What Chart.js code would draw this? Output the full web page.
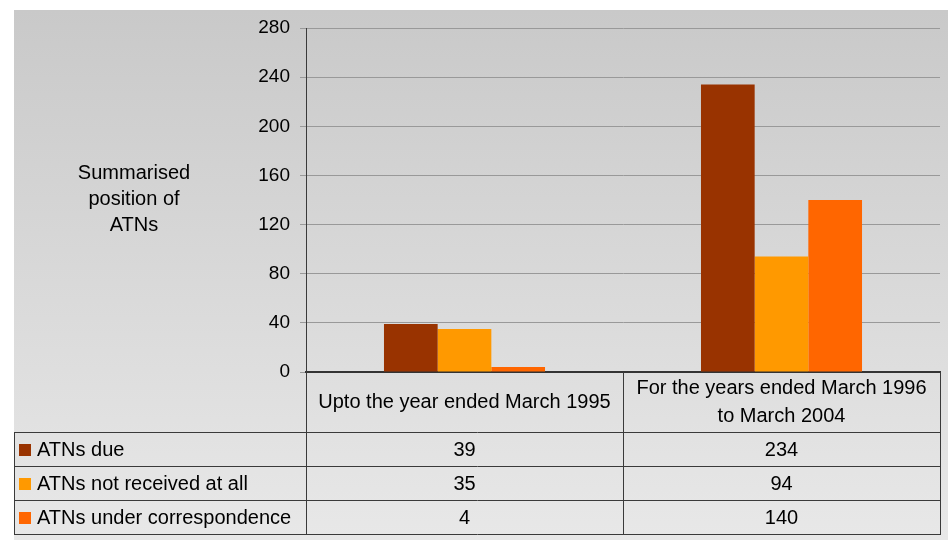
<!DOCTYPE html>
<html>
<head>
<meta charset="utf-8">
<script src="https://cdn.jsdelivr.net/npm/chart.js@4/dist/chart.umd.min.js"></script>
<style>
html,body{margin:0;padding:0;background:#fff;}
#wrap{width:948px;height:543px;}
</style>
</head>
<body>
<div id="wrap"><canvas id="c" width="948" height="543"></canvas></div>
<script>
const categories = [["Upto the year ended March 1995"], ["For the years ended March 1996", "to March 2004"]];
const seriesNames = ["ATNs due", "ATNs not received at all", "ATNs under correspondence"];
const atnsDue = [39, 234];
const atnsNotReceived = [35, 94];
const atnsUnderCorrespondence = [4, 140];
const seriesColors = ["#993300", "#FF9900", "#FF6600"];
const yTitle = ["Summarised", "position of", "ATNs"];
const yMin = 0, yMax = 280, yStep = 40;

const seriesValues = [atnsDue, atnsNotReceived, atnsUnderCorrespondence];
const FONT = '"Liberation Sans", Arial, sans-serif';

const bgPlugin = {
  id: 'bg',
  beforeDraw(chart) {
    const ctx = chart.ctx;
    ctx.save();
    const g = ctx.createLinearGradient(0, 10, 0, 540);
    g.addColorStop(0, '#c9c9c9');
    g.addColorStop(1, '#e8e8e8');
    ctx.fillStyle = g;
    ctx.fillRect(14, 10, 934, 530);
    ctx.restore();
  }
};

const tablePlugin = {
  id: 'table',
  afterDraw(chart) {
    const ctx = chart.ctx;
    const ca = chart.chartArea;
    ctx.save();
    // y title
    ctx.fillStyle = '#000';
    ctx.font = '20px ' + FONT;
    ctx.textAlign = 'center';
    ctx.textBaseline = 'middle';
    yTitle.forEach((t, i) => ctx.fillText(t, 134, 173 + i * 26));

    const left = 14;
    const top = ca.bottom;
    const headerH = 60;
    const rowH = 34;
    const colL = ca.left, colR = ca.right;
    const n = categories.length;
    const catW = (colR - colL) / n;
    const bounds = [];
    for (let i = 0; i <= n; i++) bounds.push(colL + catW * i);
    const bottom = top + headerH + rowH * seriesNames.length;

    ctx.strokeStyle = '#3a3a3a';
    ctx.lineWidth = 1;
    ctx.beginPath();
    bounds.forEach(x => { ctx.moveTo(Math.round(x) + 0.5, top); ctx.lineTo(Math.round(x) + 0.5, bottom); });
    ctx.moveTo(left + 0.5, top + headerH); ctx.lineTo(left + 0.5, bottom);
    for (let r = 0; r <= seriesNames.length; r++) {
      const y = Math.round(top + headerH + rowH * r) + 0.5;
      ctx.moveTo(left, y); ctx.lineTo(colR + 1, y);
    }
    ctx.stroke();

    ctx.font = '20px ' + FONT;
    ctx.fillStyle = '#000';
    categories.forEach((lines, i) => {
      const cx = (bounds[i] + bounds[i + 1]) / 2;
      const cy = top + headerH / 2;
      const lh = 28;
      lines.forEach((t, j) => {
        ctx.fillText(t, cx, cy + (j - (lines.length - 1) / 2) * lh);
      });
    });

    seriesNames.forEach((name, r) => {
      const cy = top + headerH + rowH * r + rowH / 2 + 1;
      ctx.fillStyle = seriesColors[r];
      ctx.fillRect(19, Math.round(cy - 6), 12, 12);
      ctx.fillStyle = '#000';
      ctx.textAlign = 'left';
      ctx.fillText(name, 37, cy);
      ctx.textAlign = 'center';
      seriesValues[r].forEach((v, i) => {
        ctx.fillText(String(v), (bounds[i] + bounds[i + 1]) / 2, cy);
      });
    });
    ctx.restore();
  }
};

new Chart(document.getElementById('c'), {
  type: 'bar',
  data: {
    labels: categories,
    datasets: seriesNames.map((name, i) => ({
      label: name,
      data: seriesValues[i],
      backgroundColor: seriesColors[i],
      borderWidth: 0,
      categoryPercentage: 0.508,
      barPercentage: 1.0
    }))
  },
  options: {
    responsive: false,
    animation: false,
    layout: { padding: { top: 28, right: 8, left: 0, bottom: 0 } },
    plugins: { legend: { display: false }, tooltip: { enabled: false } },
    scales: {
      x: {
        ticks: { display: false },
        grid: { display: false },
        border: { display: true, color: '#333', width: 2 },
        afterFit(scale) { scale.height = 171; }
      },
      y: {
        min: yMin, max: yMax,
        ticks: { stepSize: yStep, color: '#000', font: { family: FONT, size: 19 }, padding: 10 },
        grid: { color: '#999', tickLength: 6, lineWidth: 1 },
        border: { display: true, color: '#3a3a3a', width: 1 },
        afterFit(scale) { scale.width = 306; }
      }
    }
  },
  plugins: [bgPlugin, tablePlugin]
});
</script>
</body>
</html>
